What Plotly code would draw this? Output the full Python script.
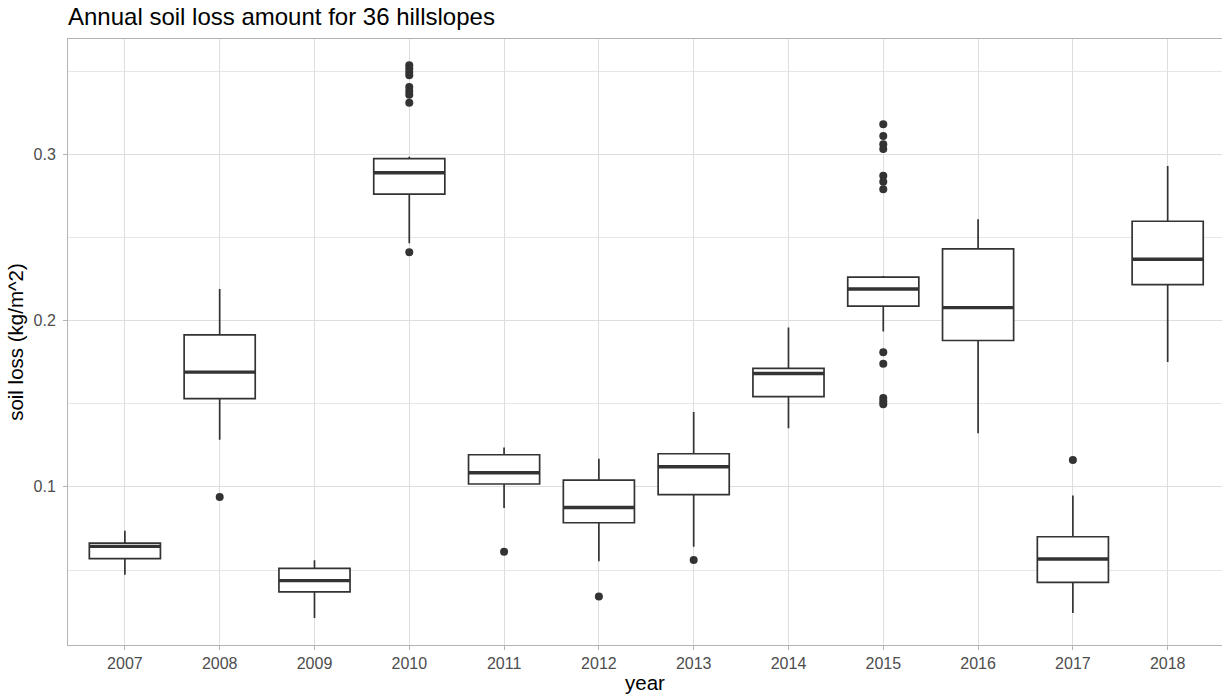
import plotly.graph_objects as go

years = ["2007", "2008", "2009", "2010", "2011", "2012", "2013", "2014", "2015", "2016", "2017", "2018"]
q1 = [0.0568, 0.1530, 0.0368, 0.2760, 0.1017, 0.0784, 0.0953, 0.1543, 0.2087, 0.1880, 0.0426, 0.2216]
median = [0.0642, 0.1690, 0.0436, 0.2889, 0.1085, 0.0876, 0.1121, 0.1682, 0.2190, 0.2078, 0.0566, 0.2369]
q3 = [0.0662, 0.1914, 0.0510, 0.2974, 0.1193, 0.1041, 0.1199, 0.1712, 0.2261, 0.2431, 0.0700, 0.2597]
lower_whisker = [0.0472, 0.1283, 0.0212, 0.2465, 0.0873, 0.0552, 0.0640, 0.1353, 0.1934, 0.1323, 0.0242, 0.1750]
upper_whisker = [0.0736, 0.2189, 0.0558, 0.2985, 0.1237, 0.1169, 0.1450, 0.1958, 0.2268, 0.2609, 0.0948, 0.2930]

outlier_years = ["2008",
                 "2010", "2010", "2010", "2010", "2010", "2010", "2010", "2010", "2010",
                 "2011", "2012", "2013",
                 "2015", "2015", "2015", "2015", "2015", "2015", "2015", "2015", "2015", "2015", "2015", "2015",
                 "2017"]
outlier_values = [0.0939,
                  0.3535, 0.3515, 0.3495, 0.3475, 0.3405, 0.3380, 0.3358, 0.3310, 0.2411,
                  0.0610, 0.0340, 0.0560,
                  0.3180, 0.3110, 0.3060, 0.3032, 0.2870, 0.2835, 0.2790, 0.1810, 0.1740, 0.1534, 0.1514, 0.1496,
                  0.1161]

ink = "#333333"
fig = go.Figure()

fig.add_trace(go.Box(
    x=years, q1=q1, median=median, q3=q3,
    lowerfence=lower_whisker, upperfence=upper_whisker,
    boxpoints=False, width=0.75, whiskerwidth=0,
    fillcolor="white", line=dict(color=ink, width=1.7),
    hoverinfo="skip", showlegend=False,
))
# thicker median line (ggplot fatten)
fig.add_trace(go.Box(
    x=years, q1=median, median=median, q3=median,
    lowerfence=median, upperfence=median,
    boxpoints=False, width=0.75, whiskerwidth=0,
    fillcolor="rgba(0,0,0,0)", line=dict(color=ink, width=3.4),
    hoverinfo="skip", showlegend=False,
))
fig.add_trace(go.Scatter(
    x=outlier_years, y=outlier_values, mode="markers",
    marker=dict(color=ink, size=8), showlegend=False,
))

font = "Liberation Sans, Arial, sans-serif"
fig.update_layout(
    width=1222, height=698,
    margin=dict(l=68, r=0, t=39, b=53),
    paper_bgcolor="white", plot_bgcolor="white",
    boxmode="overlay",
    font=dict(family=font, color="#4d4d4d", size=16),
    title=dict(text="Annual soil loss amount for 36 hillslopes",
               font=dict(size=24, color="black", family=font),
               x=68/1222, xanchor="left", xref="container",
               y=1 - 17/698, yanchor="middle", yref="container"),
    xaxis=dict(
        type="category", categoryorder="array", categoryarray=years,
        range=[-0.6, 11.573],
        showgrid=True, gridcolor="#dedede", gridwidth=1,
        showline=True, linecolor="#b3b3b3", linewidth=1, mirror=True,
        ticks="outside", ticklen=4, tickcolor="#b3b3b3",
        tickfont=dict(size=16, color="#4d4d4d"),
        title=dict(text="year", font=dict(size=20.5, color="black"), standoff=4),
        zeroline=False,
    ),
    yaxis=dict(
        range=[0.0049, 0.3693],
        tickvals=[0.1, 0.2, 0.3], ticktext=["0.1", "0.2", "0.3"],
        showgrid=True, gridcolor="#dedede", gridwidth=1,
        minor=dict(tickvals=[0.05, 0.15, 0.25, 0.35], showgrid=True,
                   gridcolor="#e6e6e6", gridwidth=0.6, ticks=""),
        showline=True, linecolor="#b3b3b3", linewidth=1, mirror=False,
        ticks="outside", ticklen=4, tickcolor="#b3b3b3",
        tickfont=dict(size=16, color="#4d4d4d"),
        ticklabelstandoff=4,
        title=dict(text="soil loss (kg/m^2)", font=dict(size=20.5, color="black"), standoff=4),
        zeroline=False,
    ),
)

fig.write_html("out.html")
